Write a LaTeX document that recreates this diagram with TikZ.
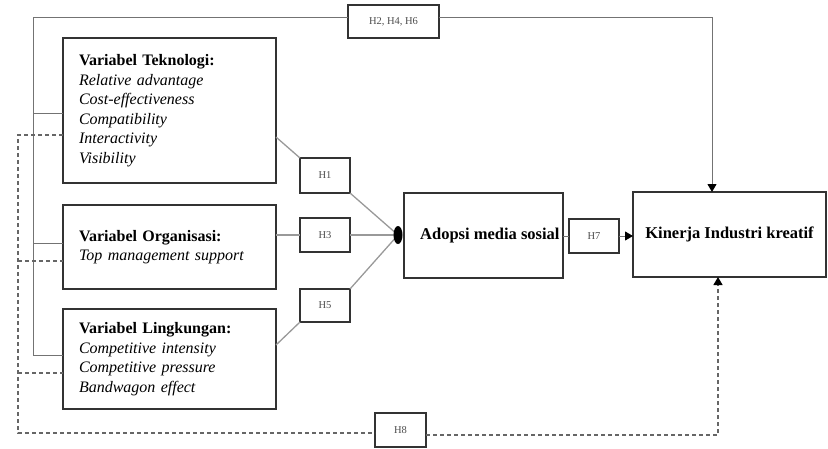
\documentclass[tikz,border=0pt]{standalone}
\usepackage{fontspec}
\setmainfont{Liberation Serif}
\usetikzlibrary{arrows.meta,shapes.geometric,calc}
\begin{document}
\begin{tikzpicture}[x=1pt,y=-1pt,
  bigbox/.style={draw=black!80, line width=1.6pt, outer sep=0pt, inner ysep=0pt, inner xsep=16pt,
    align=left, text width=181pt, font=\fontsize{16}{19.5}\selectfont, anchor=north west},
  plainbox/.style={draw=black!80, line width=1.6pt, outer sep=0pt, inner sep=0pt, anchor=north west,
    font=\fontsize{16.5}{19}\selectfont\bfseries},
  hbox/.style={draw=black!80, line width=1.4pt, outer sep=0pt, inner sep=0pt, anchor=north west,
    font=\fontsize{10.5}{12}\selectfont, text=black!70},
  conn/.style={draw=black!40, line width=1.3pt},
  thinconn/.style={draw=black!55, line width=1pt},
  dashconn/.style={draw=black!60, line width=1.2pt, dash pattern=on 4pt off 3pt},
  tip/.style={-{Triangle[width=9pt,length=8pt,color=black]}},
]
\useasboundingbox (0,0) rectangle (828,448);

% main boxes
\node[bigbox, minimum height=145pt] (tek) at (63,38)
  {\textbf{Variabel Teknologi:}\\ \textit{Relative advantage}\\ \textit{Cost-effectiveness}\\ \textit{Compatibility}\\ \textit{Interactivity}\\ \textit{Visibility}};
\node[bigbox, minimum height=84pt] (org) at (63,205)
  {\textbf{Variabel Organisasi:}\\ \textit{Top management support}};
\node[bigbox, minimum height=100pt] (ling) at (63,309)
  {\textbf{Variabel Lingkungan:}\\ \textit{Competitive intensity}\\ \textit{Competitive pressure}\\ \textit{Bandwagon effect}};
\node[plainbox, minimum width=159pt, minimum height=85pt] (ado) at (404,193) {};
\node[font=\fontsize{16.5}{19}\selectfont\bfseries, anchor=west, inner sep=0pt] (adotxt) at (420,236) {Adopsi media sosial};
\node[plainbox, minimum width=193pt, minimum height=85pt] (kin) at (633,192) {Kinerja Industri kreatif};

% hypothesis boxes
\node[hbox, minimum width=91pt, minimum height=33pt] (h246) at (348,5) {H2, H4, H6};
\node[hbox, minimum width=50pt, minimum height=35pt] (h1) at (300,158) {H1};
\node[hbox, minimum width=50pt, minimum height=34pt] (h3) at (300,218) {H3};
\node[hbox, minimum width=50pt, minimum height=33pt] (h5) at (300,289) {H5};
\node[hbox, minimum width=50pt, minimum height=34pt] (h7) at (569,219) {H7};
\node[hbox, minimum width=51pt, minimum height=34pt] (h8) at (375,413) {H8};

% junction dot
\coordinate (dotc) at (398,235);

% connectors to junction
\draw[conn] ($(tek.north east)!0.683!(tek.south east)$) -- (h1.north west);
\draw[conn] (h1.south east) -- (dotc);
\draw[conn] (h3.west -| org.east) -- (h3.west);
\draw[conn] (h3.east) -- (dotc);
\draw[conn] ($(ling.north east)!0.36!(ling.south east)$) -- (h5.south west);
\draw[conn] (h5.north east) -- (dotc);
\node[ellipse, fill=black, minimum width=9pt, minimum height=18pt, inner sep=0pt] (dot) at (dotc) {};

% adopsi -> kinerja
\draw[thinconn] (ado.east |- h7.west) -- (h7.west);
\draw[thinconn, tip] (h7.east) -- (h7.east -| kin.west);

% top solid path
\coordinate (tl) at (33,17);
\coordinate (tr) at (712,17);
\coordinate (lb) at (33,355);
\draw[thinconn] (lb) -- (tl) -- (h246.west |- tl);
\draw[thinconn, tip] (h246.east |- tl) -- (tr) -- (tr |- kin.north);
\draw[thinconn] (33,113) -- (tek.west |- 0,113);
\draw[thinconn] (33,243) -- (org.west |- 0,243);
\draw[thinconn] (lb) -- (ling.west |- lb);

% dashed path
\coordinate (dt) at (18,135);
\coordinate (db) at (18,433);
\coordinate (dr) at (718,435);
\draw[dashconn] (tek.west |- dt) -- (dt) -- (db) -- (h8.west |- db);
\draw[dashconn] (18,261) -- (org.west |- 0,261);
\draw[dashconn] (18,373) -- (ling.west |- 0,373);
\draw[dashconn, tip] (h8.east |- dr) -- (dr) -- (dr |- kin.south);
\end{tikzpicture}
\end{document}
